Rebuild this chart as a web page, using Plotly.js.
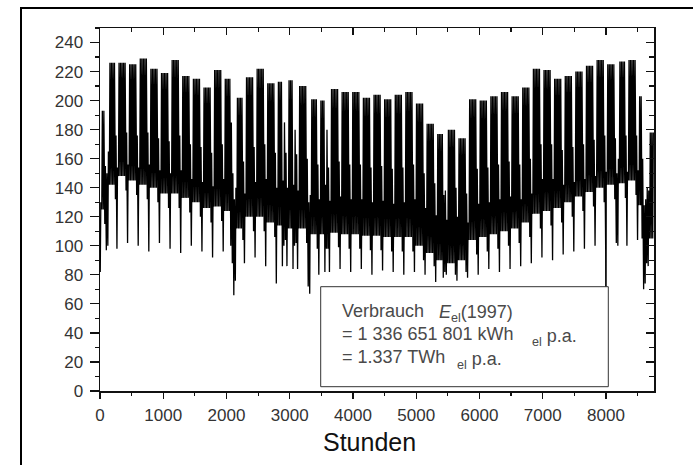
<!DOCTYPE html>
<html><head><meta charset="utf-8">
<script src="https://cdn.plot.ly/plotly-3.0.1.min.js"></script>
<style>html,body{margin:0;padding:0;background:#fff;}#chart{width:693px;height:465px;}</style>
</head><body><div id="chart"></div>
<script>
// Weekly readings (week k starts Monday, day 7k-2; day 0 = Wed 1 Jan 1997), values in MW
const weekdayPeak = [193,226,226,225,229,222,219,228,217,215,209,221,215,202,216,222,212,213,214,210,201,200,208,206,206,202,204,201,204,206,198,184,177,180,174,201,200,203,206,203,209,222,221,215,217,220,224,228,225,227,228,203,178];
const weekdayLow  = [125,142,148,145,142,140,136,136,133,130,126,127,124,112,120,120,116,114,112,112,108,108,109,108,108,107,107,106,106,106,100,95,90,88,90,104,106,108,110,112,116,122,124,126,130,134,137,140,142,143,145,128,105];
const saturdayPeak= [155,176,178,176,178,174,172,176,170,168,164,170,166,158,168,170,164,164,163,160,156,154,158,156,156,154,155,153,154,156,150,143,138,140,136,153,154,156,158,156,160,170,170,166,168,170,173,176,174,176,176,150,140];
const saturdayLow = [115,132,138,135,132,130,126,126,123,120,116,117,114,104,110,110,106,104,102,102,98,98,99,98,98,97,97,96,96,96,90,86,82,80,82,94,96,98,100,102,106,112,114,116,120,124,127,130,132,133,135,118,95];
const sundayPeak  = [150,154,156,154,156,152,150,152,146,144,141,146,142,136,144,146,140,140,138,136,132,131,134,132,132,130,131,129,130,132,126,121,118,120,116,129,130,132,134,132,136,146,146,142,144,146,148,151,150,151,152,135,130];
const sundayLow   = [97,98,102,100,96,102,98,95,100,96,92,96,90,88,92,86,74,86,84,82,80,82,84,82,84,80,83,82,80,82,80,75,80,76,78,80,84,82,84,86,88,92,90,94,96,98,100,98,102,100,104,92,88];
// Holidays / special days (day index, peak, low)
const holidayDays  = [0,5,86,87,88,89,120,121,127,128,137,138,148,149,226,341,357,358,359,360,361];
const holidayPeaks = [130,165,185,150,132,140,145,185,142,180,130,135,142,180,135,160,160,128,132,140,138];
const holidayLows  = [82,100,100,88,66,76,86,100,84,100,72,67,82,98,78,100,105,70,74,88,86];
// single faulty hourly record (hidden behind the text box)
const glitchHour = 8000, glitchValue = 5;
const nDays = 365;

const pts = [];
for (let d = 0; d < nDays; d++) {
  const k = Math.floor((d + 2) / 7), dow = (d + 2) % 7;
  let pk, lo;
  if (dow < 5) { pk = weekdayPeak[k]; lo = weekdayLow[k]; }
  else if (dow === 5) { pk = saturdayPeak[k]; lo = saturdayLow[k]; }
  else { pk = sundayPeak[k]; lo = sundayLow[k]; }
  const h = holidayDays.indexOf(d);
  if (h >= 0) { pk = holidayPeaks[h]; lo = holidayLows[h]; }
  pts.push([d * 24 + 4, lo]);
  pts.push([d * 24 + 13, pk]);
}
pts.push([glitchHour, glitchValue]);
pts.sort((a, b) => a[0] - b[0]);
const xs = pts.map(p => p[0]), ys = pts.map(p => p[1]);

const L = 100, R = 654, T = 28, B = 391;
const px = x => (x - L) / (R - L);
const py = y => (B - y) / (B - T);
const FONT = 'Liberation Sans, Arial, sans-serif';
const tickFont = {family: FONT, size: 17, color: '#333'};
const boxFont = {family: FONT, size: 18, color: '#4a4a4a'};

const traces = [
  {x: xs, y: ys, type: 'scatter', mode: 'lines', line: {color: '#000', width: 1.3}, hoverinfo: 'skip', showlegend: false},
  {x: [], y: [], xaxis: 'x2', yaxis: 'y2', type: 'scatter', mode: 'lines', showlegend: false, hoverinfo: 'skip'}
];

const axisCommon = {showgrid: false, zeroline: false, showline: true, linecolor: '#111', linewidth: 1.5, tickcolor: '#111', tickwidth: 1.2};

const layout = {
  width: 693, height: 465,
  margin: {l: L, r: 693 - R, t: T, b: 465 - B, pad: 0},
  paper_bgcolor: '#fff', plot_bgcolor: '#fff',
  showlegend: false,
  xaxis: Object.assign({}, axisCommon, {range: [0, 8760], tick0: 0, dtick: 1000, ticks: 'outside', ticklen: 6,
    minor: {dtick: 500, tick0: 0, ticks: 'outside', ticklen: 3, tickcolor: '#111'}, tickfont: tickFont, ticklabelstandoff: 2}),
  yaxis: Object.assign({}, axisCommon, {range: [0, 250], tick0: 0, dtick: 20, ticks: 'outside', ticklen: 9,
    minor: {dtick: 10, tick0: 0, ticks: 'outside', ticklen: 4, tickcolor: '#111'}, tickfont: tickFont, ticklabelstandoff: 3}),
  xaxis2: Object.assign({}, axisCommon, {overlaying: 'x', side: 'top', range: [0, 8760], tick0: 0, dtick: 1000, ticks: 'inside', ticklen: 7,
    minor: {dtick: 500, tick0: 0, ticks: 'inside', ticklen: 3.5, tickcolor: '#111'}, showticklabels: false}),
  yaxis2: Object.assign({}, axisCommon, {overlaying: 'y', side: 'right', range: [0, 250], tick0: 0, dtick: 20, ticks: 'inside', ticklen: 8,
    minor: {dtick: 10, tick0: 0, ticks: 'inside', ticklen: 5, tickcolor: '#111'}, showticklabels: false}),
  shapes: [
    {type: 'rect', xref: 'paper', yref: 'paper', x0: px(21), x1: px(720), y0: py(490), y1: py(8), line: {color: '#000', width: 2}, fillcolor: 'rgba(0,0,0,0)', layer: 'below'},
    {type: 'rect', xref: 'paper', yref: 'paper', x0: px(320.7), x1: px(608.3), y0: py(386.7), y1: py(286.7), line: {color: '#333', width: 1}, fillcolor: '#fff', layer: 'above'}
  ],
  annotations: [
    {xref: 'paper', yref: 'paper', x: px(340), y: py(311), xanchor: 'left', yanchor: 'middle', showarrow: false, text: 'Verbrauch', font: boxFont},
    {xref: 'paper', yref: 'paper', x: px(437), y: py(313), xanchor: 'left', yanchor: 'middle', showarrow: false, text: '<i>E</i><sub>el</sub>(1997)', font: boxFont},
    {xref: 'paper', yref: 'paper', x: px(340), y: py(334), xanchor: 'left', yanchor: 'middle', showarrow: false, text: '= 1 336 651 801 kWh', font: boxFont},
    {xref: 'paper', yref: 'paper', x: px(530), y: py(337), xanchor: 'left', yanchor: 'middle', showarrow: false, text: '<sub>el</sub> p.a.', font: boxFont},
    {xref: 'paper', yref: 'paper', x: px(340), y: py(357), xanchor: 'left', yanchor: 'middle', showarrow: false, text: '= 1.337 TWh', font: boxFont},
    {xref: 'paper', yref: 'paper', x: px(455), y: py(360), xanchor: 'left', yanchor: 'middle', showarrow: false, text: '<sub>el</sub> p.a.', font: boxFont},
    {xref: 'paper', yref: 'paper', x: px(369), y: py(442), xanchor: 'center', yanchor: 'middle', showarrow: false, text: 'Stunden', font: {family: FONT, size: 25, color: '#111'}}
  ]
};

Plotly.newPlot('chart', traces, layout, {staticPlot: true, displayModeBar: false});
</script>
</body></html>
